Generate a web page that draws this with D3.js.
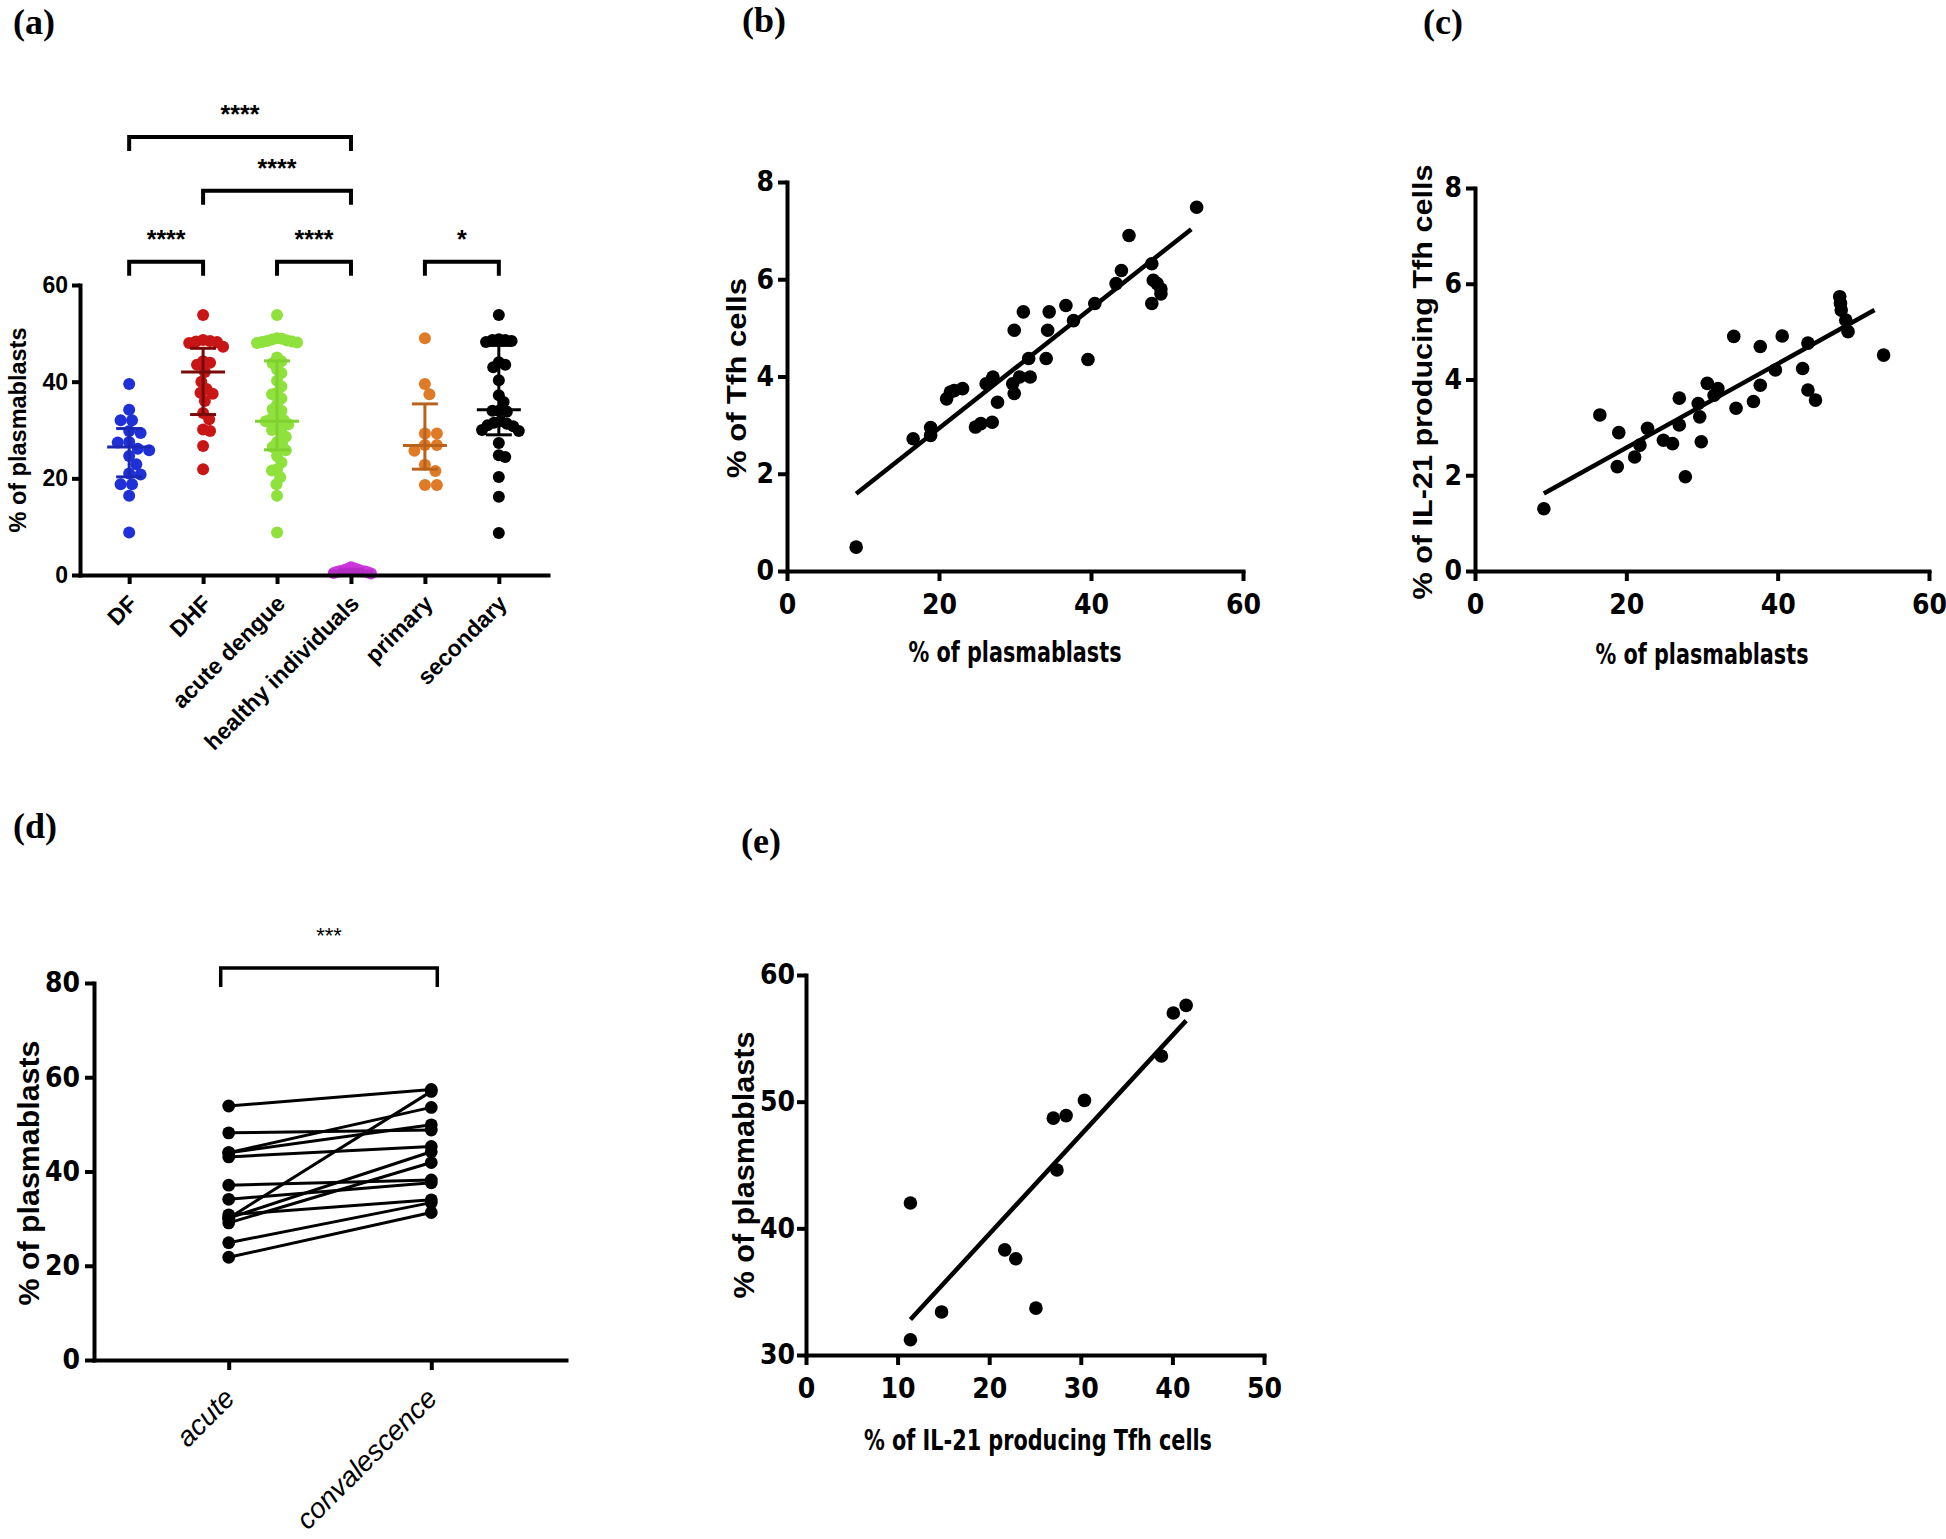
<!DOCTYPE html>
<html><head><meta charset="utf-8">
<script src="https://cdn.jsdelivr.net/npm/d3@7"></script>
<style>
body{margin:0;background:#fff}
svg{display:block}
</style></head><body>
<svg id="fig" width="1946" height="1539"></svg>
<script>
// ---------------- DATA ----------------
// (a) scatter dot plot
const groupNames = ["DF","DHF","acute dengue","healthy individuals","primary","secondary"];
const groupColors = ["#1f30d6","#c81616","#8fe13c","#cc35dc","#df7a26","#000000"];
const groupLineColors = ["#1a28b4","#7a0a0a","#7fd030","#b52cc4","#b8621c","#000000"];
const dfValues = [39.5,34.2,32.0,32.0,29.8,29.4,27.5,27.4,26.1,25.8,24.6,22.9,21.0,20.8,18.8,18.8,16.4,8.8];
const dhfValues = [53.8,48.6,48.4,48.3,48.2,48.0,47.2,44.2,43.9,43.5,42.0,40.0,38.5,37.7,37.5,36.0,33.5,32.2,30.1,29.8,26.7,21.9];
const acuteValues = [53.8,49.0,48.9,48.7,48.5,48.4,48.3,48.2,48.1,48.0,45.0,44.2,43.8,42.5,41.8,40.2,39.0,37.7,37.4,36.5,35.3,34.3,34.0,33.0,32.2,32.0,31.8,31.2,30.5,30.0,29.5,28.6,27.5,27.2,26.5,25.8,24.6,23.3,21.9,21.6,20.2,18.8,16.4,8.8];
const healthyValues = [1.6,1.4,1.3,1.2,1.1,1.0,0.9,0.8,0.8,0.7,0.6,0.5,0.4,0.3];
const primaryValues = [49.0,39.5,37.4,29.3,29.3,26.9,26.9,25.7,22.8,21.5,18.6,18.6];
const secondaryValues = [53.8,48.8,48.6,48.6,48.4,48.2,44.0,43.5,43.0,40.3,37.2,35.8,34.0,34.0,33.8,31.8,31.5,31.3,31.0,30.8,30.0,29.8,27.3,24.8,24.4,20.3,16.2,8.7];
const groupMedian = [26.5,42.0,31.8,0.8,26.8,34.2];
const groupLow = [20.3,33.2,25.9,0.5,21.9,29.0];
const groupHigh = [30.3,46.9,44.3,1.2,35.4,47.5];
const aTicks = [0,20,40,60];
const bracketFrom = ["DF","DHF","DF","acute dengue","primary"];
const bracketTo = ["healthy individuals","healthy individuals","DHF","healthy individuals","secondary"];
const bracketLevel = [90.6,79.5,64.8,64.8,64.8];
const bracketStars = ["****","****","****","****","*"];

// (b) Tfh vs plasmablasts
const bX = [9.1,16.6,18.9,18.9,21.0,21.5,22.0,23.1,24.8,25.5,26.2,26.9,27.1,27.0,27.7,29.9,29.7,29.9,30.6,31.1,31.8,32.0,34.1,34.3,34.5,36.7,37.7,39.6,40.5,43.3,44.0,45.0,48.0,48.2,48.7,49.2,48.0,49.2,53.9];
const bY = [0.49,2.72,2.95,2.79,3.54,3.68,3.71,3.75,2.96,3.03,3.85,3.92,3.99,3.06,3.47,4.95,3.85,3.65,3.99,5.33,4.37,3.99,4.37,4.95,5.33,5.46,5.15,4.35,5.5,5.91,6.18,6.9,6.32,5.98,5.91,5.8,5.5,5.7,7.48];
const bFitX = [9.1,53.2];
const bFitY = [1.59,7.03];

// (c) IL-21 Tfh vs plasmablasts
const cX = [9.1,16.5,19.0,18.8,21.1,21.8,22.8,24.9,26.1,27.0,27.0,27.8,29.5,29.7,29.9,30.7,31.6,32.1,34.2,34.5,36.8,37.7,37.7,39.7,40.6,43.3,44.0,44.0,45.0,48.2,48.3,48.4,49.0,49.3,54.0];
const cY = [1.30,3.26,2.89,2.18,2.38,2.63,2.98,2.73,2.66,3.61,3.05,1.97,3.50,3.22,2.70,3.92,3.67,3.81,4.90,3.40,3.54,4.69,3.88,4.20,4.91,4.23,4.76,3.78,3.57,5.73,5.59,5.45,5.24,5.00,4.51];
const cFitX = [9.1,52.8];
const cFitY = [1.62,5.45];
const bcXTicks = [0,20,40,60];
const bcYTicks = [0,2,4,6,8];

// (d) paired acute / convalescence
const dCategories = ["acute","convalescence"];
const dAcute = [53.9,48.2,44.0,44.0,43.1,37.1,34.1,30.8,30.1,30.1,29.1,24.9,21.8];
const dConval = [57.4,48.8,53.6,49.9,45.3,38.2,37.6,34.0,57.0,44.2,41.9,33.4,31.3];
const dTicks = [0,20,40,60,80];
const dBracketLevel = 83.2;

// (e) plasmablasts vs IL-21 Tfh
const eX = [11.4,11.4,14.8,21.7,22.9,25.1,27.0,28.4,27.4,30.4,38.8,40.1,41.5];
const eY = [42.0,31.2,33.4,38.3,37.6,33.7,48.7,48.9,44.6,50.1,53.6,57.0,57.6];
const eFitX = [11.4,41.5];
const eFitY = [32.8,56.4];
const eXTicks = [0,10,20,30,40,50];
const eYTicks = [30,40,50,60];

// ---------------- DRAW ----------------
const svg = d3.select("#fig");
const SANS = "'Liberation Sans', Arial, Helvetica, sans-serif";
const NARROW = "'Liberation Sans Narrow', 'Arial Narrow', 'DejaVu Sans Condensed', 'Liberation Sans', sans-serif";
const SERIF = "'Liberation Serif', 'Times New Roman', serif";

function styleAxis(g, family, size){
  g.attr("font-family", family).attr("font-size", size).attr("font-weight","bold");
  g.select(".domain").attr("stroke","#000").attr("stroke-width",4).attr("stroke-linecap","square");
  g.selectAll(".tick line").attr("stroke","#000").attr("stroke-width",4);
  g.selectAll(".tick text").attr("fill","#000");
}
function panelLabel(txt, x, y){
  svg.append("text").attr("x",x).attr("y",y).attr("font-family",SERIF)
    .attr("font-weight","bold").attr("font-size",36).text(txt);
}
function yLabel(txt, cx, cy, size, len, family){
  svg.append("text").attr("transform",`translate(${cx},${cy}) rotate(-90)`)
    .attr("text-anchor","middle").attr("dy","0.35em").attr("font-family",family)
    .attr("font-weight","bold").attr("font-size",size)
    .attr("textLength",len).attr("lengthAdjust","spacingAndGlyphs").text(txt);
}
function xLabel(txt, cx, cy, size, len, family){
  svg.append("text").attr("x",cx).attr("y",cy).attr("text-anchor","middle").attr("dy","0.35em")
    .attr("font-family",family).attr("font-weight","bold").attr("font-size",size)
    .attr("textLength",len).attr("lengthAdjust","spacingAndGlyphs").text(txt);
}

// ===== Panel (a) =====
panelLabel("(a)", 13, 34);
const aValues = [dfValues, dhfValues, acuteValues, healthyValues, primaryValues, secondaryValues];
const ax = d3.scalePoint().domain(groupNames).range([80,548]).padding(0.665);
const ay = d3.scaleLinear().domain([0,60]).range([575,285]);

function swarm(values, yScale, r, maxHalf){
  const placed = [];
  const sorted = values.slice().sort((a,b)=>b-a);
  sorted.forEach(v=>{
    const py = yScale(v);
    let off = 0;
    for(let k=0;k<400;k++){
      off = (k%2===1 ? 1 : -1) * Math.ceil(k/2) * 1.5;
      if(placed.every(q => (q.x-off)*(q.x-off)+(q.y-py)*(q.y-py) >= (2*r-1)*(2*r-1))) break;
    }
    placed.push({x:off, y:py, v:v});
  });
  const m = d3.max(placed, d=>Math.abs(d.x)) || 1;
  const s = m > maxHalf ? maxHalf/m : 1;
  placed.forEach(d=> d.x *= s);
  return placed;
}

const RA = 6;
const ga = svg.append("g");
groupNames.forEach((name,i)=>{
  const cx = ax(name);
  const pts = swarm(aValues[i], ay, RA, 20);
  ga.append("g").selectAll("circle").data(pts).join("circle")
    .attr("cx", d=>cx+d.x).attr("cy", d=>d.y).attr("r",RA).attr("fill",groupColors[i]);
  const lc = groupLineColors[i];
  const eb = ga.append("g").attr("stroke",lc).attr("stroke-width",3);
  eb.append("line").attr("x1",cx).attr("x2",cx).attr("y1",ay(groupLow[i])).attr("y2",ay(groupHigh[i]));
  eb.append("line").attr("x1",cx-13).attr("x2",cx+13).attr("y1",ay(groupLow[i])).attr("y2",ay(groupLow[i]));
  eb.append("line").attr("x1",cx-13).attr("x2",cx+13).attr("y1",ay(groupHigh[i])).attr("y2",ay(groupHigh[i]));
  eb.append("line").attr("x1",cx-22).attr("x2",cx+22).attr("y1",ay(groupMedian[i])).attr("y2",ay(groupMedian[i]));
});
const aYAxis = svg.append("g").attr("transform","translate(80,0)")
  .call(d3.axisLeft(ay).tickValues(aTicks).tickSize(8).tickSizeOuter(0).tickPadding(4));
styleAxis(aYAxis, SANS, 23);
const aXAxis = svg.append("g").attr("transform","translate(0,575)")
  .call(d3.axisBottom(ax).tickSize(9).tickSizeOuter(0));
styleAxis(aXAxis, SANS, 23);
aXAxis.selectAll(".tick text").attr("y",0).attr("dy",0)
  .attr("transform","translate(9,30) rotate(-45)").attr("text-anchor","end");
yLabel("% of plasmablasts", 18, 430, 24, 205, SANS);
// significance brackets
bracketFrom.forEach((f,i)=>{
  const x1 = ax(f), x2 = ax(bracketTo[i]), y = ay(bracketLevel[i]);
  svg.append("path").attr("d",`M${x1},${y+14}V${y}H${x2}V${y+14}`)
    .attr("fill","none").attr("stroke","#000").attr("stroke-width",4);
  svg.append("text").attr("x",(x1+x2)/2).attr("y",y-14).attr("text-anchor","middle")
    .attr("font-family",SANS).attr("font-weight","bold").attr("font-size",25).text(bracketStars[i]);
});

// ===== scatter helper =====
function scatterPanel(xs, ys, fx, fy, xDom, xRange, yDom, yRange, xTicks, yTicks, yPad){
  const x = d3.scaleLinear().domain(xDom).range(xRange);
  const y = d3.scaleLinear().domain(yDom).range(yRange);
  const g = svg.append("g");
  g.selectAll("circle").data(xs.map((v,i)=>[v,ys[i]])).join("circle")
    .attr("cx",d=>x(d[0])).attr("cy",d=>y(d[1])).attr("r",6.8).attr("fill","#000");
  g.append("line").attr("x1",x(fx[0])).attr("y1",y(fy[0])).attr("x2",x(fx[1])).attr("y2",y(fy[1]))
    .attr("stroke","#000").attr("stroke-width",4.5);
  const yA = svg.append("g").attr("transform",`translate(${xRange[0]},0)`)
    .call(d3.axisLeft(y).tickValues(yTicks).tickSize(9).tickSizeOuter(0).tickPadding(yPad));
  styleAxis(yA, NARROW, 28);
  const xA = svg.append("g").attr("transform",`translate(0,${yRange[0]})`)
    .call(d3.axisBottom(x).tickValues(xTicks).tickSize(10).tickSizeOuter(0).tickPadding(13));
  styleAxis(xA, NARROW, 28);
}

// ===== Panel (b) =====
panelLabel("(b)", 742, 32);
scatterPanel(bX, bY, bFitX, bFitY, [0,60], [787,1243], [0,8], [571,182], bcXTicks, bcYTicks, 4);
yLabel("% of Tfh cells", 737, 378, 27, 200, SANS);
xLabel("% of plasmablasts", 1015, 652, 29, 213, NARROW);

// ===== Panel (c) =====
panelLabel("(c)", 1423, 34);
scatterPanel(cX, cY, cFitX, cFitY, [0,60], [1475,1929], [0,8], [571,188], bcXTicks, bcYTicks, 4);
yLabel("% of IL-21 producing Tfh cells", 1423, 382, 27, 435, SANS);
xLabel("% of plasmablasts", 1702, 654, 29, 213, NARROW);

// ===== Panel (d) =====
panelLabel("(d)", 13, 838);
const dx = d3.scalePoint().domain(dCategories).range([94,566]).padding(0.665);
const dy = d3.scaleLinear().domain([0,80]).range([1360,983]);
const gd = svg.append("g");
gd.selectAll("line.pair").data(dAcute.map((v,i)=>[v,dConval[i]])).join("line")
  .attr("class","pair")
  .attr("x1",dx("acute")).attr("x2",dx("convalescence"))
  .attr("y1",d=>dy(d[0])).attr("y2",d=>dy(d[1]))
  .attr("stroke","#000").attr("stroke-width",3);
gd.selectAll("circle.a").data(dAcute).join("circle").attr("class","a")
  .attr("cx",dx("acute")).attr("cy",d=>dy(d)).attr("r",6.4).attr("fill","#000");
gd.selectAll("circle.c").data(dConval).join("circle").attr("class","c")
  .attr("cx",dx("convalescence")).attr("cy",d=>dy(d)).attr("r",6.4).attr("fill","#000");
const dYA = svg.append("g").attr("transform","translate(94,0)")
  .call(d3.axisLeft(dy).tickValues(dTicks).tickSize(9).tickSizeOuter(0).tickPadding(5));
styleAxis(dYA, NARROW, 28);
const dXA = svg.append("g").attr("transform","translate(0,1360)")
  .call(d3.axisBottom(dx).tickSize(10).tickSizeOuter(0));
styleAxis(dXA, SANS, 28);
dXA.selectAll(".tick text").attr("y",0).attr("dy",0).attr("font-weight","normal")
  .attr("font-style","italic")
  .attr("transform","translate(7,40) rotate(-45)").attr("text-anchor","end");
yLabel("% of plasmablasts", 29, 1173, 29, 265, SANS);
{
  const x1 = dx("acute")-8, x2 = dx("convalescence")+6, y = dy(dBracketLevel);
  svg.append("path").attr("d",`M${x1},${y+19}V${y}H${x2}V${y+19}`)
    .attr("fill","none").attr("stroke","#000").attr("stroke-width",3.5);
  svg.append("text").attr("x",(x1+x2)/2).attr("y",y-25).attr("text-anchor","middle")
    .attr("font-family",SANS).attr("font-size",22).text("***");
}

// ===== Panel (e) =====
panelLabel("(e)", 741, 853);
scatterPanel(eX, eY, eFitX, eFitY, [0,50], [806,1264], [30,60], [1355,975], eXTicks, eYTicks, 2);
yLabel("% of plasmablasts", 744, 1165, 29, 267, SANS);
xLabel("% of IL-21 producing Tfh cells", 1038, 1440, 29, 348, NARROW);
</script>
</body></html>
